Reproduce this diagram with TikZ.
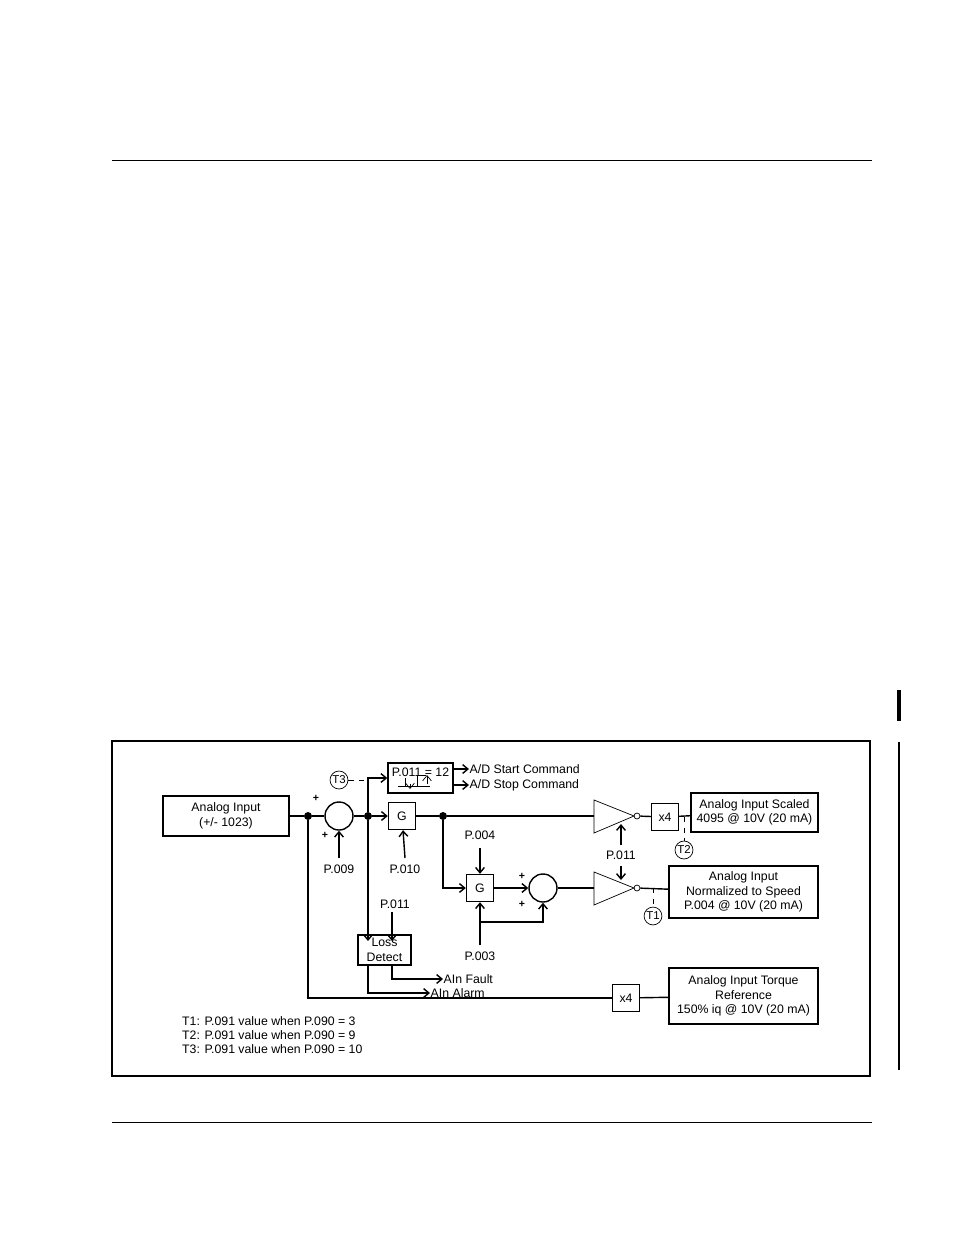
\documentclass[tikz,border=0pt]{standalone}
\usepackage{fontspec}
\setmainfont{Liberation Sans}
\usetikzlibrary{arrows.meta,calc,positioning}

\begin{document}
\begin{tikzpicture}[x=0.02cm, y=-0.02cm, >={Straight Barb[length=3pt,width=5pt]},
    font=\fontsize{7}{8.2}\selectfont,
    blk/.style={draw, thick, inner sep=0pt, align=center},
    sumcirc/.style={draw, thick, circle, minimum size=28*0.02cm, inner sep=0pt},
    tag/.style={draw, circle, inner sep=0.5pt, font=\fontsize{6.5}{7}\selectfont},
    junct/.style={circle, fill, inner sep=1.6pt},
    sig/.style={thick}]

    %% Background
    \useasboundingbox (0,0) rectangle (954,1235);

    % Page rules and frame
    \draw (112,160) -- (872,160);
    \draw (112,1122) -- (872,1122);
    \draw[line width=2.2pt] (899,690) -- (899,721);
    \draw[line width=1.4pt] (899,742) -- (899,1070);
    \draw[line width=1pt] (112,741) rectangle (870,1076);

    % Blocks
    \node[blk, minimum width=126*0.02cm, minimum height=40*0.02cm] (ain) at (226,816) {Analog Input\\(+/- 1023)};
    \node[junct] (j1) at (308,816) {};
    \node[sumcirc] (sum1) at (339,816) {};
    \node[junct] (j2) at (368,816) {};
    \node[blk, minimum size=27*0.02cm] (g1) at (402,816) {G};
    \node[junct] (j3) at (443,816) {};
    \node[blk, minimum width=65*0.02cm, minimum height=30*0.02cm] (hyst) at (420.5,778) {};
    \node[anchor=north] (hystlbl) at (420.5,762) {P.011 = 12};
    \node[blk, minimum size=27*0.02cm] (g2) at (480,888) {G};
    \node[sumcirc] (sum2) at (543,888) {};
    \node[blk, minimum width=53*0.02cm, minimum height=30*0.02cm] (loss) at (384.5,950) {Loss\\Detect};
    \node[blk, minimum size=27*0.02cm] (x4a) at (665,817) {x4};
    \node[blk, minimum size=27*0.02cm] (x4b) at (626,998) {x4};
    \node[blk, minimum width=127*0.02cm, minimum height=39*0.02cm] (scaled) at (754.5,812.5) {Analog Input Scaled\\4095 @ 10V (20 mA)};
    \node[blk, minimum width=149*0.02cm, minimum height=52*0.02cm] (norm) at (743.5,892) {Analog Input\\Normalized to Speed\\P.004 @ 10V (20 mA)};
    \node[blk, minimum width=149*0.02cm, minimum height=56*0.02cm] (torque) at (743.5,996) {Analog Input Torque\\Reference\\150\% iq @ 10V (20 mA)};

    % Inverting amplifiers
    \draw[thin] (594,800) -- (634,816) -- (594,833) -- cycle;
    \draw[thin] (594,872) -- (634,888) -- (594,905) -- cycle;
    \node[draw, circle, inner sep=1.2pt] (inv1) at (637,816) {};
    \node[draw, circle, inner sep=1.2pt] (inv2) at (637,888) {};

    % Labels
    \node (p009) at (339,869) {P.009};
    \node (p010) at (405,869) {P.010};
    \node (p011a) at (621,855) {P.011};
    \node (p004) at (480,835) {P.004};
    \node (p003) at (480,956) {P.003};
    \node (p011b) at (395,904) {P.011};
    \node[font=\bfseries\fontsize{6}{7}\selectfont] at (316,798) {+};
    \node[font=\bfseries\fontsize{6}{7}\selectfont] at (325,835) {+};
    \node[font=\bfseries\fontsize{6}{7}\selectfont] at (522,876) {+};
    \node[font=\bfseries\fontsize{6}{7}\selectfont] at (522,904) {+};
    \node[tag] (t3) at (339,780) {T3};
    \node[tag] (t2) at (684,850) {T2};
    \node[tag] (t1) at (653,916) {T1};

    % Main path
    \draw[sig] (ain) -- (j1) -- (sum1) -- (j2);
    \draw[sig, ->] (j2) -- (g1);
    \draw[sig] (g1) -- (j3) -- (594,816);
    \draw[sig] (inv1) -- (x4a) -- (scaled);
    \draw[sig, ->] (p009) ++(0,-11) -- (sum1);
    \draw[sig, ->] (p010) ++(0,-11) -- (g1);
    \draw[sig, ->] (621,845) -- (621,824);
    \draw[sig, ->] (621,866) -- (621,880);

    % A/D commands
    \draw[sig, ->] (j2) |- (hyst.west);
    \draw[dashed] (t3) -- (368,780);
    \draw[thin] (398,786) -- (417,786) -- (417,775) -- (426,775) (405,786) -- (405,778) (417,786) -- (430,786);
    \draw[thin, ->] (410,784) -- (410,789);
    \draw[thin, ->] (427,784) -- (427,775);
    \draw[sig, ->] (453,769) -- (469,769) node[right, inner sep=0pt] (adstart) {A/D Start Command};
    \draw[sig, ->] (453,785) -- (469,785) node[right, inner sep=0pt] (adstop) {A/D Stop Command};

    % Normalized branch
    \draw[sig, ->] (j3) |- (g2);
    \draw[sig, ->] (p004) ++(0,13) -- (g2);
    \draw[sig, ->] (g2) -- (sum2);
    \draw[sig, ->] (480,945) -- (g2);
    \draw[sig, ->] (480,922) -| (sum2);
    \draw[sig] (sum2) -- (594,888);
    \draw[sig] (inv2) -- (norm);
    \draw[dashed] (684,817) -- (t2);
    \draw[dashed] (653,888) -- (t1);

    % Loss detect
    \draw[sig, ->] (j2) -- (368,941);
    \draw[sig, ->] (392,912) -- (392,941);
    \draw[sig, ->] (392,965) |- (443,979) node[right, inner sep=0pt] (fault) {AIn Fault};
    \draw[sig, ->] (368,965) |- (430,993) node[right, inner sep=0pt] (alarm) {AIn Alarm};

    % Torque path
    \draw[line width=1pt] (j1) |- (x4b);
    \draw[sig] (x4b) -- (torque);

    % Notes
    \node[anchor=west, align=left, font=\fontsize{7}{7.8}\selectfont] (notes) at (176,1035)
    {T1: P.091 value when P.090 = 3\\T2: P.091 value when P.090 = 9\\T3: P.091 value when P.090 = 10};

\end{tikzpicture}
\end{document}
